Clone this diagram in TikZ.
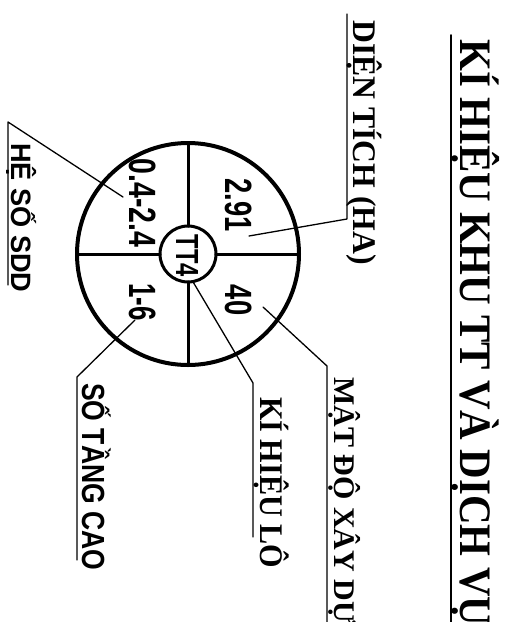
\documentclass[tikz,border=0pt]{standalone}
\usepackage{fontspec}
\setmainfont{Liberation Serif}
\newfontfamily\lsans{Liberation Sans}
\begin{document}
\begin{tikzpicture}[x=1pt,y=-1pt,line join=round,line cap=round,
  lead/.style={line width=1.3pt},
  lab/.style={rotate=-90,anchor=base west,inner sep=0pt},
  num/.style={rotate=-90,anchor=base,inner sep=0pt,font=\lsans\bfseries\fontsize{38}{40}\selectfont}]
\useasboundingbox (0,0) rectangle (509,622);
\clip (0,0) rectangle (509,622);
% title
\node[lab,font=\bfseries\fontsize{45}{50}\selectfont] (title) at (460,39) {\scalebox{0.91}[1]{KÍ HIỆU KHU TT VÀ DỊCH VỤ}};
\coordinate (tu1) at (451,35);
\coordinate (tu2) at (451,640);
\draw[line width=2pt] (tu1) -- (tu2);
% circles
\node[circle,draw,line width=4pt,minimum size=222,inner sep=0pt,outer sep=0pt] (big) at (188,254) {};
\node[circle,draw,line width=3pt,minimum size=56,inner sep=0pt,outer sep=0pt] (tt) at (188,254) {};
\draw[line width=3pt] (tt.north) -- (big.north) (tt.south) -- (big.south)
  (tt.east) -- (big.east) (tt.west) -- (big.west);
% numbers
\node[num] (n291) at (225.5,205) {\scalebox{0.72}[1]{2.91}};
\node[num] (n40) at (225.5,300) {\scalebox{0.72}[1]{40}};
\node[num] (n04) at (129,203) {\scalebox{0.75}[1]{0.4-2.4}};
\node[num] (n16) at (129,302) {\scalebox{0.68}[1]{1-6}};
\node[num,font=\lsans\bfseries\fontsize{32}{34}\selectfont] (ntt) at (176,256) {\scalebox{0.74}[1]{TT4}};
% labels
\node[lab,font=\bfseries\fontsize{33}{36}\selectfont] (ldt) at (353,20) {\scalebox{0.96}[1]{DIỆN TÍCH (HA)}};
\node[lab,font=\bfseries\fontsize{30}{33}\selectfont] (lmd) at (334,377) {MẬT ĐỘ XÂY DỰNG};
\node[lab,font=\bfseries\fontsize{33}{36}\selectfont] (lkh) at (260,397) {\scalebox{0.915}[1]{KÍ HIỆU LÔ}};
\node[lab,font=\lsans\bfseries\fontsize{32}{34}\selectfont] (lst) at (82,383) {\scalebox{0.83}[1]{SỐ TẦNG CAO}};
\node[lab,font=\lsans\bfseries\fontsize{28}{30}\selectfont] (lhs) at (12,143) {\scalebox{0.97}[1]{HỆ SỐ SDD}};
% leaders
\coordinate (dt1) at (249,236); \coordinate (dt2) at (347,219); \coordinate (dt3) at (347,14);
\draw[lead] (dt1) -- (dt2) -- (dt3);
\coordinate (md1) at (263,307); \coordinate (md2) at (327,366); \coordinate (md3) at (327,640);
\draw[lead] (md1) -- (md2) -- (md3);
\coordinate (kh2) at (253,383); \coordinate (kh3) at (253,537);
\draw[lead] (tt.-80) -- (kh2) -- (kh3);
\coordinate (st1) at (135,320); \coordinate (st2) at (77,377); \coordinate (st3) at (77,560);
\draw[lead] (st1) -- (st2) -- (st3);
\coordinate (hs1) at (123,197); \coordinate (hs2) at (8,122); \coordinate (hs3) at (8,285);
\draw[lead] (hs1) -- (hs2) -- (hs3);
\end{tikzpicture}
\end{document}
